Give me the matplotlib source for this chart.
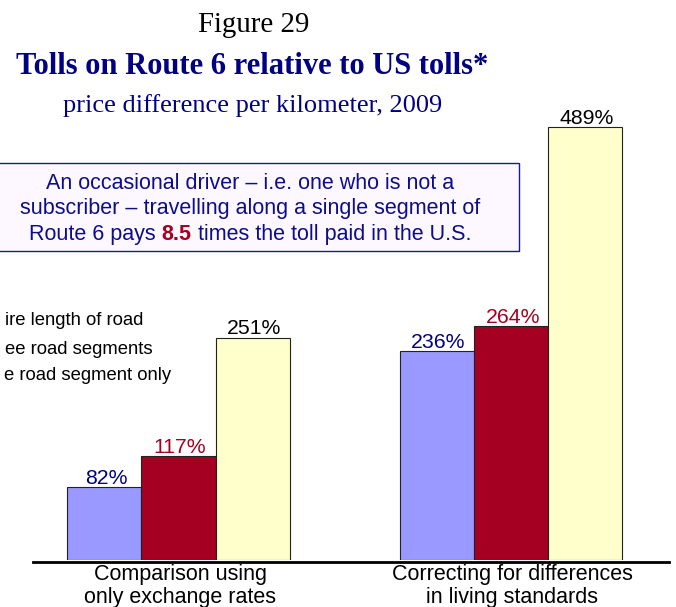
import matplotlib
matplotlib.use("Agg")
import matplotlib.pyplot as plt
from matplotlib.patches import Rectangle
import numpy as np

# ---- data ----
categories = ["Comparison using\nonly exchange rates",
              "Correcting for differences\nin living standards"]
# legend labels as visible in the reference (left part cut off by the page edge)
series_names = ["ire length of road", "ee road segments", "e road segment only"]
entire_road = [82, 236]
three_segments = [117, 264]
one_segment = [251, 489]

bar_colors = ["#9999FF", "#A50021", "#FFFFCC"]
label_colors = ["#000080", "#A50021", "#000000"]

W, H = 676, 607
SANS = "Liberation Sans"
SERIF = "Liberation Serif"
NAVY = "#000080"

fig = plt.figure(figsize=(W / 100, H / 100), dpi=100)

def fx(x):
    return x / W

def fy(y):
    return 1 - y / H

# axes: baseline at pixel y=560, group centres at 178.5 px and 511 px
base_px = 560
px_per_unit = 0.885
gc0, gsp = 178.5, 332.5
ax = fig.add_axes([0, (H - base_px) / H, 1, base_px / H])
ax.set_xlim(-gc0 / gsp, (W - gc0) / gsp)
ax.set_ylim(0, base_px / px_per_unit)
ax.axis("off")

x = np.arange(len(categories))
width = 74.2 / gsp
all_series = [entire_road, three_segments, one_segment]
for i, (vals, col, lcol) in enumerate(zip(all_series, bar_colors, label_colors)):
    xs = x + (i - 1) * width
    ax.bar(xs, vals, width=width, color=col, edgecolor="#222222", linewidth=0.8, zorder=2)
    for xi, v in zip(xs, vals):
        ax.annotate(f"{v}%", (xi, v), xytext=(1.2, 2.5), textcoords="offset points",
                    ha="center", va="baseline", fontsize=15.3, family=SANS, color=lcol)

ax.axhline(-1.5 / px_per_unit, xmin=33 / W, xmax=669 / W, color="black", lw=2.0,
           clip_on=False, zorder=3)

# category labels
for xi, cat in zip(x, categories):
    l1, l2 = cat.split("\n")
    xp = gc0 + xi * gsp + 1.5
    fig.text(fx(xp), fy(580), l1, ha="center", va="baseline", fontsize=15.5, family=SANS)
    fig.text(fx(xp), fy(603), l2, ha="center", va="baseline", fontsize=15.5, family=SANS)

# titles
fig.text(fx(253.5), fy(32), "Figure 29", ha="center", va="baseline", fontsize=20.8,
         family=SERIF, color="black")
fig.text(fx(252), fy(74), "Tolls on Route 6 relative to US tolls*", ha="center",
         va="baseline", fontsize=22, family=SERIF, weight="bold", color=NAVY)
fig.text(fx(252.5), fy(112), "price difference per kilometer, 2009", ha="center",
         va="baseline", fontsize=19, family=SERIF, color=NAVY)

# note box
box = Rectangle((fx(-3), fy(251)), fx(519) - fx(-3), fy(163) - fy(251),
                transform=fig.transFigure, facecolor="#FDF8FF", edgecolor="#1A1A99",
                linewidth=1.0, zorder=1)
fig.add_artist(box)
BOXC = "#0D0D8C"
fs_box = 15.5
fig.text(fx(250), fy(189), "An occasional driver \u2013 i.e. one who is not a", ha="center",
         va="baseline", fontsize=fs_box, family=SANS, color=BOXC)
fig.text(fx(250.5), fy(214), "subscriber \u2013 travelling along a single segment of",
         ha="center", va="baseline", fontsize=fs_box, family=SANS, color=BOXC)

parts = [("Route 6 pays ", BOXC, "normal"), ("8.5", "#A50021", "bold"),
         (" times the toll paid in the U.S.", BOXC, "normal")]
renderer = fig.canvas.get_renderer()
widths = []
for s, c, w in parts:
    t = fig.text(0, 0, s, fontsize=fs_box, family=SANS, weight=w)
    widths.append(t.get_window_extent(renderer).width)
    t.remove()
total = sum(widths)
xcur = 250 - total / 2
for (s, c, w), wd in zip(parts, widths):
    fig.text(fx(xcur), fy(240), s, ha="left", va="baseline", fontsize=fs_box,
             family=SANS, weight=w, color=c)
    xcur += wd

# legend text
leg_right = [143, 153, 171]
leg_base = [325, 354, 380]
for name, xr, yb in zip(series_names, leg_right, leg_base):
    fig.text(fx(xr), fy(yb), name, ha="right", va="baseline", fontsize=13.3,
             family=SANS, color="black")

fig.savefig("out.png", dpi=100)
